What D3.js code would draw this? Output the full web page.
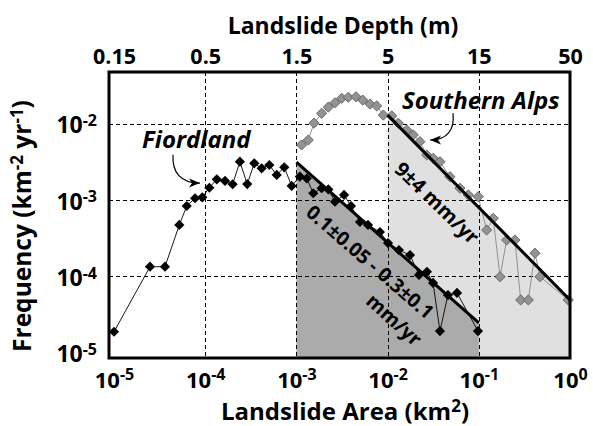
<!DOCTYPE html>
<html>
<head>
<meta charset="utf-8">
<script src="https://cdn.jsdelivr.net/npm/d3@7"></script>
<style>
  body { margin: 0; background: #fff; }
  text { font-family: "Open Sans", "Noto Sans", sans-serif; font-weight: 700; fill: #000; }
</style>
</head>
<body>
<svg id="chart"></svg>
<script>
(() => {

  // Fiordland landslide frequency (area km2, frequency km-2 yr-1)
  const fiordArea = [1.0e-5, 2.48e-5, 3.62e-5, 5.20e-5, 6.27e-5, 7.73e-5, 9.29e-5, 1.11e-4, 1.34e-4, 1.65e-4,
    2.00e-4, 2.40e-4, 2.89e-4, 3.45e-4, 4.16e-4, 5.05e-4, 6.08e-4, 7.36e-4, 8.87e-4, 1.09e-3,
    1.30e-3, 1.53e-3, 1.89e-3, 2.24e-3, 2.65e-3, 3.33e-3, 3.97e-3, 4.98e-3, 6.10e-3, 8.24e-3,
    1.01e-2, 1.33e-2, 1.76e-2, 2.21e-2, 2.70e-2, 3.15e-2, 3.75e-2, 4.59e-2, 5.77e-2, 9.79e-2];
  const fiordFreq = [1.87e-5, 1.33e-4, 1.33e-4, 4.69e-4, 8.30e-4, 1.05e-3, 1.08e-3, 1.44e-3, 1.86e-3, 1.77e-3,
    1.60e-3, 3.16e-3, 1.61e-3, 3.01e-3, 2.59e-3, 2.86e-3, 2.12e-3, 2.67e-3, 1.52e-3, 2.02e-3,
    1.91e-3, 1.22e-3, 1.42e-3, 1.37e-3, 9.46e-4, 1.16e-3, 8.30e-4, 5.13e-4, 4.69e-4, 3.79e-4,
    2.72e-4, 2.20e-4, 1.89e-4, 1.04e-4, 1.14e-4, 8.15e-5, 1.91e-5, 5.66e-5, 6.03e-5, 1.91e-5];

  // Southern Alps landslide frequency
  const alpsArea = [1.14e-3, 1.35e-3, 1.56e-3, 1.89e-3, 2.24e-3, 2.65e-3, 3.14e-3, 3.71e-3, 4.50e-3, 5.33e-3,
    6.41e-3, 7.59e-3, 8.97e-3, 1.11e-2, 1.31e-2, 1.62e-2, 1.91e-2, 2.26e-2, 2.69e-2, 3.17e-2,
    3.75e-2, 4.83e-2, 6.21e-2, 7.67e-2, 9.86e-2, 1.22e-1, 1.44e-1, 1.71e-1, 2.02e-1, 2.49e-1,
    2.88e-1, 3.49e-1, 4.13e-1, 4.69e-1, 9.57e-1];
  const alpsFreq = [5.24e-3, 6.08e-3, 1.01e-2, 1.36e-2, 1.64e-2, 1.87e-2, 2.14e-2, 2.21e-2, 2.24e-2, 2.03e-2,
    1.80e-2, 1.70e-2, 1.29e-2, 1.26e-2, 1.01e-2, 8.22e-3, 7.08e-3, 5.78e-3, 3.87e-3, 3.50e-3,
    3.16e-3, 2.01e-3, 1.42e-3, 1.16e-3, 1.10e-3, 4.03e-4, 5.73e-4, 9.84e-5, 2.98e-4, 2.98e-4,
    4.88e-5, 4.88e-5, 2.00e-4, 9.84e-5, 4.88e-5];

  // power-law fits (start, end)
  const fiordFitArea = [1e-3, 1e-1];
  const fiordFitFreq = [3.13e-3, 2.44e-5];
  const alpsFitArea = [1e-2, 1];
  const alpsFitFreq = [1.29e-2, 4.88e-5];

  // axes
  const areaTicks = [1e-5, 1e-4, 1e-3, 1e-2, 1e-1, 1];
  const areaExps = ['-5', '-4', '-3', '-2', '-1', '0'];
  const depthLabels = ['0.15', '0.5', '1.5', '5', '15', '50'];
  const freqTicks = [1e-5, 1e-4, 1e-3, 1e-2];
  const freqExps = ['-5', '-4', '-3', '-2'];

  const svgWidth = 593;
  const svgHeight = 426;

  const svg = d3.select('#chart')
    .attr('width', svgWidth)
    .attr('height', svgHeight);

  const xScale = d3.scaleLog()
    .domain([Math.pow(10, -5.055), 1])
    .range([109, 570]);

  const yScale = d3.scaleLog()
    .domain([Math.pow(10, -5.072), Math.pow(10, -1.325)])
    .range([358, 72]);

  const [x0, x1] = xScale.range();
  const [y0, y1] = yScale.range();
  const yBottom = yScale.domain()[0];

  // shaded areas under the fits
  const line = d3.line()
    .x(d => xScale(d[0]))
    .y(d => yScale(d[1]));

  const alpsPoly = [[alpsFitArea[0], yBottom], [alpsFitArea[0], alpsFitFreq[0]],
    [alpsFitArea[1], alpsFitFreq[1]], [alpsFitArea[1], yBottom]];
  const fiordPoly = [[fiordFitArea[0], yBottom], [fiordFitArea[0], fiordFitFreq[0]],
    [fiordFitArea[1], fiordFitFreq[1]], [fiordFitArea[1], yBottom]];

  svg.append('path').attr('d', line(alpsPoly) + 'Z').attr('fill', '#e0e0e0');
  svg.append('path').attr('d', line(fiordPoly) + 'Z').attr('fill', '#ababab');

  // grid
  const grid = svg.append('g')
    .attr('stroke', '#000')
    .attr('stroke-width', 1)
    .attr('stroke-dasharray', '4,3');

  grid.selectAll('.vgrid')
    .data(areaTicks.slice(1, -1))
    .enter()
    .append('line')
    .attr('x1', d => Math.round(xScale(d)) + 0.5)
    .attr('x2', d => Math.round(xScale(d)) + 0.5)
    .attr('y1', y1)
    .attr('y2', y0);

  grid.selectAll('.hgrid')
    .data(freqTicks.slice(1))
    .enter()
    .append('line')
    .attr('y1', d => Math.round(yScale(d)) + 0.5)
    .attr('y2', d => Math.round(yScale(d)) + 0.5)
    .attr('x1', x0)
    .attr('x2', x1);

  // series
  const diamond = d3.symbol().type(d3.symbolSquare).size(52);

  const alps = d3.zip(alpsArea, alpsFreq);
  const fiord = d3.zip(fiordArea, fiordFreq);

  svg.append('path')
    .attr('d', line(alps))
    .attr('fill', 'none')
    .attr('stroke', '#888')
    .attr('stroke-width', 0.9);

  svg.append('g')
    .selectAll('path')
    .data(alps)
    .enter()
    .append('path')
    .attr('d', diamond)
    .attr('transform', d => `translate(${xScale(d[0])},${yScale(d[1])}) rotate(45)`)
    .attr('fill', '#939393')
    .attr('stroke', '#5a5a5a')
    .attr('stroke-width', 0.8);

  svg.append('path')
    .attr('d', line(fiord))
    .attr('fill', 'none')
    .attr('stroke', '#000')
    .attr('stroke-width', 0.9);

  svg.append('g')
    .selectAll('path')
    .data(fiord)
    .enter()
    .append('path')
    .attr('d', diamond)
    .attr('transform', d => `translate(${xScale(d[0])},${yScale(d[1])}) rotate(45)`)
    .attr('fill', '#000');

  // fit lines
  [[fiordFitArea, fiordFitFreq], [alpsFitArea, alpsFitFreq]].forEach(([xs, ys]) => {
    svg.append('path')
      .attr('d', line(d3.zip(xs, ys)))
      .attr('stroke', '#000')
      .attr('stroke-width', 3)
      .attr('fill', 'none');
  });

  // frame
  svg.append('rect')
    .attr('x', x0)
    .attr('y', y1)
    .attr('width', x1 - x0)
    .attr('height', y0 - y1)
    .attr('fill', 'none')
    .attr('stroke', '#000')
    .attr('stroke-width', 3);

  // axes
  function powerLabel(sel, exps, supSize) {
    sel.selectAll('.tick text').each(function(d, i) {
      const t = d3.select(this).text('');
      t.append('tspan').text('10');
      t.append('tspan').attr('dy', '-0.45em').attr('font-size', supSize).text(exps[i]);
    });
  }

  const bottomAxis = svg.append('g')
    .attr('transform', `translate(0,${y0})`)
    .call(d3.axisBottom(xScale).tickValues(areaTicks).tickSize(0).tickPadding(14));
  bottomAxis.select('.domain').remove();
  bottomAxis.selectAll('.tick text')
    .attr('font-size', 22)
    .style('font-family', '"Open Sans", sans-serif');
  powerLabel(bottomAxis, areaExps, 16);

  const topAxis = svg.append('g')
    .attr('transform', `translate(0,${y1})`)
    .call(d3.axisTop(xScale).tickValues(areaTicks).tickSize(0).tickPadding(8)
      .tickFormat((d, i) => depthLabels[i]));
  topAxis.select('.domain').remove();
  topAxis.selectAll('.tick text')
    .attr('font-size', 21.5)
    .style('font-family', '"Open Sans", sans-serif');

  const leftAxis = svg.append('g')
    .attr('transform', `translate(${x0},0)`)
    .call(d3.axisLeft(yScale).tickValues(freqTicks).tickSize(0).tickPadding(12));
  leftAxis.select('.domain').remove();
  leftAxis.selectAll('.tick text')
    .attr('font-size', 23).attr('dy', '0.4em')
    .style('font-family', '"Open Sans", sans-serif');
  powerLabel(leftAxis, freqExps, 16);

  // axis titles
  const xTitle = svg.append('text')
    .attr('x', 345).attr('y', 420)
    .attr('text-anchor', 'middle')
    .attr('font-size', 24);
  xTitle.append('tspan').text('Landslide Area (km');
  xTitle.append('tspan').attr('dy', '-0.45em').attr('font-size', 17).text('2');
  xTitle.append('tspan').attr('dy', '0.3em').text(')');

  svg.append('text')
    .attr('x', 343).attr('y', 34)
    .attr('text-anchor', 'middle')
    .attr('font-size', 23)
    .text('Landslide Depth (m)');

  const yTitle = svg.append('text')
    .attr('transform', `translate(31,226) rotate(-90)`)
    .attr('text-anchor', 'middle')
    .attr('font-size', 24.5);
  yTitle.append('tspan').text('Frequency (km');
  yTitle.append('tspan').attr('dy', '-0.45em').attr('font-size', 17).text('-2');
  yTitle.append('tspan').attr('dy', '0.3em').text(' yr');
  yTitle.append('tspan').attr('dy', '-0.45em').attr('font-size', 17).text('-1');
  yTitle.append('tspan').attr('dy', '0.3em').text(')');

  // annotations
  svg.append('text')
    .attr('x', xScale(2.03e-5)).attr('y', yScale(4.78e-3))
    .attr('font-size', 24).attr('font-style', 'italic')
    .text('Fiordland');

  svg.append('text')
    .attr('x', xScale(1.44e-2)).attr('y', yScale(1.55e-2))
    .attr('font-size', 24).attr('font-style', 'italic')
    .text('Southern Alps');

  function rotated(text, ax, fy, angle, size) {
    svg.append('text')
      .attr('transform', `translate(${xScale(ax)},${yScale(fy)}) rotate(${angle})`)
      .attr('text-anchor', 'middle')
      .attr('dy', '0.35em')
      .attr('font-size', size)
      .text(text);
  }
  rotated('9±4 mm/yr', 3.47e-2, 9.1e-4, 44, 20);
  rotated('0.1±0.05 - 0.3±0.1', 6.41e-3, 1.53e-4, 41, 19.5);
  rotated('mm/yr', 1.175e-2, 2.67e-5, 42, 19.5);

  // curved arrows
  const arrows = [
    { from: [4.43e-5, 3.9e-3], c1: [4.33e-5, 2.32e-3], c2: [5.3e-5, 1.66e-3], to: [8.77e-5, 1.66e-3] },
    { from: [5.21e-2, 1.37e-2], c1: [5.48e-2, 8.22e-3], c2: [4.48e-2, 6.08e-3], to: [2.92e-2, 6.08e-3] }
  ];
  const pt = d => [xScale(d[0]), yScale(d[1])];
  arrows.forEach(a => {
    const [fx, fy] = pt(a.from), [tx, ty] = pt(a.to);
    const [ax1, ay1] = pt(a.c1), [ax2, ay2] = pt(a.c2);
    svg.append('path')
      .attr('d', `M${fx},${fy} C${ax1},${ay1} ${ax2},${ay2} ${tx},${ty}`)
      .attr('fill', 'none')
      .attr('stroke', '#000')
      .attr('stroke-width', 1.2);
    const ang = Math.atan2(ty - ay2, tx - ax2) * 180 / Math.PI;
    svg.append('path')
      .attr('d', 'M0,0 L-11,-4.5 L-8,0 L-11,4.5 Z')
      .attr('transform', `translate(${tx},${ty}) rotate(${ang})`)
      .attr('fill', '#000');
  });

})();
</script>
</body>
</html>
